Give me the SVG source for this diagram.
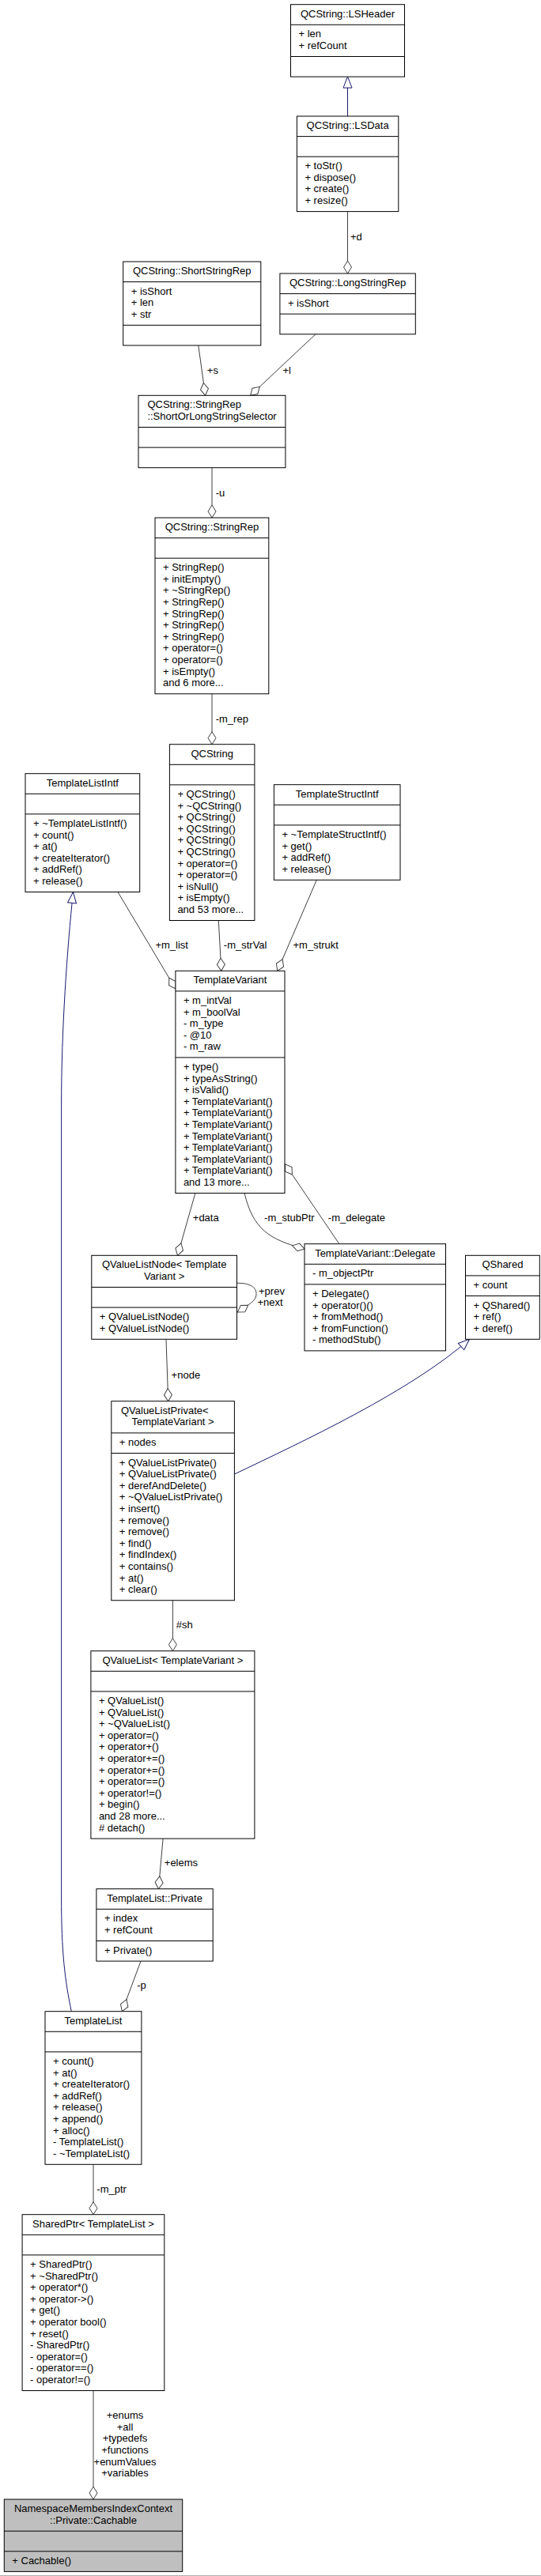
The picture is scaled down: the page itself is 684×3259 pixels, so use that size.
<svg xmlns="http://www.w3.org/2000/svg" width="684" height="3259" viewBox="0 0 684 3259">
<style>
.bg{fill:#fff}
.box{fill:#fff;stroke:#000;stroke-width:1}
.hl{fill:#bfbfbf;stroke:#000;stroke-width:1}
.sep{stroke:#000;stroke-width:1;fill:none}
text{font-family:"Liberation Sans",Arial,Helvetica,sans-serif;font-size:13px;fill:#000}
.c{text-anchor:middle}
.e{fill:none;stroke:#404040;stroke-width:1;marker-end:url(#agg)}
.i{fill:none;stroke:#191970;stroke-width:1;marker-end:url(#inh)}
</style>
<defs>
<marker id="agg" markerUnits="userSpaceOnUse" markerWidth="18" markerHeight="12" viewBox="-1 -1 18 12" refX="16" refY="5" orient="auto"><path d="M0,5 L8,0 L16,5 L8,10 Z" fill="#fff" stroke="#404040"/></marker>
<marker id="inh" markerUnits="userSpaceOnUse" markerWidth="16" markerHeight="13" viewBox="-1 -1 16 13" refX="14" refY="5.5" orient="auto"><path d="M0,0 L14,5.5 L0,11 Z" fill="#fff" stroke="#191970"/></marker>
</defs>
<rect class="bg" x="0" y="0" width="684" height="3259"/>

<g id="connectors">
<path class="i" d="M439.5,147 L439.5,97.1"/>
<path class="e" d="M439.5,267.6 L439.5,346"/>
<text x="443" y="304">+d</text>
<path class="e" d="M250.8,437 L259.6,500.3"/>
<text x="261.8" y="472.5">+s</text>
<path class="e" d="M399,422.8 L316.6,500.3"/>
<text x="357.4" y="472.5">+l</text>
<path class="e" d="M268,591.7 L268,655"/>
<text x="272.7" y="627.8">-u</text>
<path class="e" d="M268,877.8 L268,941.7"/>
<text x="272.7" y="913.5">-m_rep</text>
<path class="e" d="M149,1128.5 L222,1251"/>
<text x="196.4" y="1200">+m_list</text>
<path class="e" d="M276.3,1164.5 L279.8,1228.3"/>
<text x="282.8" y="1200">-m_strVal</text>
<path class="e" d="M400.3,1113.3 L350.8,1228.3"/>
<text x="370.5" y="1200">+m_strukt</text>
<path class="i" d="M90.3,2544.7 C82,2505 77.6,2470 77.6,2400 L77.6,1400 C77.6,1300 85,1200 92.5,1128.5"/>
<path class="e" d="M246.9,1509.5 L224.5,1588.3"/>
<text x="243.8" y="1545.2">+data</text>
<path class="e" d="M309.1,1509.5 C320,1555 340,1568 385,1580"/>
<text x="334.1" y="1545.2">-m_stubPtr</text>
<path class="e" d="M428.9,1573.7 L360.4,1472.7"/>
<text x="414.8" y="1545.2">-m_delegate</text>
<path class="e" d="M299.5,1623.3 C318,1623 326,1630 323.6,1640 C322,1646 317,1649 300.4,1660"/>
<text x="327" y="1637.8">+prev</text>
<text x="325.4" y="1652.2">+next</text>
<path class="e" d="M210,1694.3 L212.7,1772.7"/>
<text x="216.6" y="1743.8">+node</text>
<path class="i" d="M296.4,1865 C380,1825 520,1760 593.5,1694.3"/>
<path class="e" d="M218.4,2024.7 L218.4,2088.7"/>
<text x="222.8" y="2060.2">#sh</text>
<path class="e" d="M206.1,2326.1 L200.4,2389.7"/>
<text x="207.8" y="2361.2">+elems</text>
<path class="e" d="M178,2481.1 L154.4,2544.7"/>
<text x="173.2" y="2516.2">-p</text>
<path class="e" d="M118,2738.3 L118,2801.7"/>
<text x="122.3" y="2773.5">-m_ptr</text>
<path class="e" d="M118,3024.5 L118,3162"/>
<text class="c" x="158" y="3060.2">+enums</text>
<text class="c" x="158" y="3074.8">+all</text>
<text class="c" x="158" y="3089.4">+typedefs</text>
<text class="c" x="158" y="3104">+functions</text>
<text class="c" x="158" y="3118.6">+enumValues</text>
<text class="c" x="158" y="3133.2">+variables</text>
</g>

<g id="LSHeader">
<rect class="box" x="367.5" y="5.7" width="144" height="91.4"/>
<path class="sep" d="M367.5,31.3 H511.5 M367.5,71.5 H511.5"/>
<text class="c" x="439.5" y="21.7">QCString::LSHeader</text>
<text x="377.5" y="47.3">+ len</text>
<text x="377.5" y="61.9">+ refCount</text>
</g>

<g id="LSData">
<rect class="box" x="375.4" y="147" width="128.4" height="120.6"/>
<path class="sep" d="M375.4,172.6 H503.8 M375.4,198.2 H503.8"/>
<text class="c" x="439.6" y="163">QCString::LSData</text>
<text x="385.4" y="214.2">+ toStr()</text>
<text x="385.4" y="228.8">+ dispose()</text>
<text x="385.4" y="243.4">+ create()</text>
<text x="385.4" y="258">+ resize()</text>
</g>

<g id="ShortStringRep">
<rect class="box" x="155.7" y="331" width="174.1" height="106"/>
<path class="sep" d="M155.7,356.6 H329.8 M155.7,411.4 H329.8"/>
<text class="c" x="242.75" y="347">QCString::ShortStringRep</text>
<text x="165.7" y="372.6">+ isShort</text>
<text x="165.7" y="387.2">+ len</text>
<text x="165.7" y="401.8">+ str</text>
</g>

<g id="LongStringRep">
<rect class="box" x="353.9" y="346" width="171.4" height="76.8"/>
<path class="sep" d="M353.9,371.6 H525.3 M353.9,397.2 H525.3"/>
<text class="c" x="439.6" y="362">QCString::LongStringRep</text>
<text x="363.9" y="387.6">+ isShort</text>
</g>

<g id="ShortOrLongStringSelector">
<rect class="box" x="175" y="500.3" width="185.9" height="91.4"/>
<path class="sep" d="M175,540.5 H360.9 M175,566.1 H360.9"/>
<text x="186.4" y="516.3">QCString::StringRep</text>
<text x="186.4" y="530.9">::ShortOrLongStringSelector</text>
</g>

<g id="StringRep">
<rect class="box" x="196" y="655" width="143.8" height="222.8"/>
<path class="sep" d="M196,680.6 H339.8 M196,706.2 H339.8"/>
<text class="c" x="267.9" y="671">QCString::StringRep</text>
<text x="206" y="722.2">+ StringRep()</text>
<text x="206" y="736.8">+ initEmpty()</text>
<text x="206" y="751.4">+ ~StringRep()</text>
<text x="206" y="766">+ StringRep()</text>
<text x="206" y="780.6">+ StringRep()</text>
<text x="206" y="795.2">+ StringRep()</text>
<text x="206" y="809.8">+ StringRep()</text>
<text x="206" y="824.4">+ operator=()</text>
<text x="206" y="839">+ operator=()</text>
<text x="206" y="853.6">+ isEmpty()</text>
<text x="206" y="868.2">and 6 more...</text>
</g>

<g id="QCString">
<rect class="box" x="214.4" y="941.7" width="107.5" height="222.8"/>
<path class="sep" d="M214.4,967.3 H321.9 M214.4,992.9 H321.9"/>
<text class="c" x="268.15" y="957.7">QCString</text>
<text x="224.4" y="1008.9">+ QCString()</text>
<text x="224.4" y="1023.5">+ ~QCString()</text>
<text x="224.4" y="1038.1">+ QCString()</text>
<text x="224.4" y="1052.7">+ QCString()</text>
<text x="224.4" y="1067.3">+ QCString()</text>
<text x="224.4" y="1081.9">+ QCString()</text>
<text x="224.4" y="1096.5">+ operator=()</text>
<text x="224.4" y="1111.1">+ operator=()</text>
<text x="224.4" y="1125.7">+ isNull()</text>
<text x="224.4" y="1140.3">+ isEmpty()</text>
<text x="224.4" y="1154.9">and 53 more...</text>
</g>

<g id="TemplateListIntf">
<rect class="box" x="32" y="978.7" width="144.7" height="149.8"/>
<path class="sep" d="M32,1004.3 H176.7 M32,1029.9 H176.7"/>
<text class="c" x="104.35" y="994.7">TemplateListIntf</text>
<text x="42" y="1045.9">+ ~TemplateListIntf()</text>
<text x="42" y="1060.5">+ count()</text>
<text x="42" y="1075.1">+ at()</text>
<text x="42" y="1089.7">+ createIterator()</text>
<text x="42" y="1104.3">+ addRef()</text>
<text x="42" y="1118.9">+ release()</text>
</g>

<g id="TemplateStructIntf">
<rect class="box" x="346.4" y="992.7" width="159.6" height="120.6"/>
<path class="sep" d="M346.4,1018.3 H506 M346.4,1043.9 H506"/>
<text class="c" x="426.2" y="1008.7">TemplateStructIntf</text>
<text x="356.4" y="1059.9">+ ~TemplateStructIntf()</text>
<text x="356.4" y="1074.5">+ get()</text>
<text x="356.4" y="1089.1">+ addRef()</text>
<text x="356.4" y="1103.7">+ release()</text>
</g>

<g id="TemplateVariant">
<rect class="box" x="221.9" y="1228.3" width="138.1" height="281.2"/>
<path class="sep" d="M221.9,1253.9 H360 M221.9,1337.9 H360"/>
<text class="c" x="290.95" y="1244.3">TemplateVariant</text>
<text x="231.9" y="1269.9">+ m_intVal</text>
<text x="231.9" y="1284.5">+ m_boolVal</text>
<text x="231.9" y="1299.1">- m_type</text>
<text x="231.9" y="1313.7">- @10</text>
<text x="231.9" y="1328.3">- m_raw</text>
<text x="231.9" y="1353.9">+ type()</text>
<text x="231.9" y="1368.5">+ typeAsString()</text>
<text x="231.9" y="1383.1">+ isValid()</text>
<text x="231.9" y="1397.7">+ TemplateVariant()</text>
<text x="231.9" y="1412.3">+ TemplateVariant()</text>
<text x="231.9" y="1426.9">+ TemplateVariant()</text>
<text x="231.9" y="1441.5">+ TemplateVariant()</text>
<text x="231.9" y="1456.1">+ TemplateVariant()</text>
<text x="231.9" y="1470.7">+ TemplateVariant()</text>
<text x="231.9" y="1485.3">+ TemplateVariant()</text>
<text x="231.9" y="1499.9">and 13 more...</text>
</g>

<g id="QValueListNode">
<rect class="box" x="115.8" y="1588.3" width="183.7" height="106"/>
<path class="sep" d="M115.8,1628.5 H299.5 M115.8,1654.1 H299.5"/>
<text class="c" x="207.65" y="1604.3">QValueListNode&lt; Template</text>
<text class="c" x="207.65" y="1618.9">Variant &gt;</text>
<text x="125.8" y="1670.1">+ QValueListNode()</text>
<text x="125.8" y="1684.7">+ QValueListNode()</text>
</g>

<g id="Delegate">
<rect class="box" x="385" y="1573.7" width="178.5" height="135.2"/>
<path class="sep" d="M385,1599.3 H563.5 M385,1624.9 H563.5"/>
<text class="c" x="474.25" y="1589.7">TemplateVariant::Delegate</text>
<text x="395" y="1615.3">- m_objectPtr</text>
<text x="395" y="1640.9">+ Delegate()</text>
<text x="395" y="1655.5">+ operator()()</text>
<text x="395" y="1670.1">+ fromMethod()</text>
<text x="395" y="1684.7">+ fromFunction()</text>
<text x="395" y="1699.3">- methodStub()</text>
</g>

<g id="QShared">
<rect class="box" x="588.5" y="1588.3" width="93.8" height="106"/>
<path class="sep" d="M588.5,1613.9 H682.3 M588.5,1639.5 H682.3"/>
<text class="c" x="635.4" y="1604.3">QShared</text>
<text x="598.5" y="1629.9">+ count</text>
<text x="598.5" y="1655.5">+ QShared()</text>
<text x="598.5" y="1670.1">+ ref()</text>
<text x="598.5" y="1684.7">+ deref()</text>
</g>

<g id="QValueListPrivate">
<rect class="box" x="140.8" y="1772.7" width="155.6" height="252"/>
<path class="sep" d="M140.8,1812.9 H296.4 M140.8,1838.5 H296.4"/>
<text class="c" x="208.3" y="1788.7">QValueListPrivate&lt;</text>
<text class="c" x="218.6" y="1803.3">TemplateVariant &gt;</text>
<text x="150.8" y="1828.9">+ nodes</text>
<text x="150.8" y="1854.5">+ QValueListPrivate()</text>
<text x="150.8" y="1869.1">+ QValueListPrivate()</text>
<text x="150.8" y="1883.7">+ derefAndDelete()</text>
<text x="150.8" y="1898.3">+ ~QValueListPrivate()</text>
<text x="150.8" y="1912.9">+ insert()</text>
<text x="150.8" y="1927.5">+ remove()</text>
<text x="150.8" y="1942.1">+ remove()</text>
<text x="150.8" y="1956.7">+ find()</text>
<text x="150.8" y="1971.3">+ findIndex()</text>
<text x="150.8" y="1985.9">+ contains()</text>
<text x="150.8" y="2000.5">+ at()</text>
<text x="150.8" y="2015.1">+ clear()</text>
</g>

<g id="QValueList">
<rect class="box" x="114.9" y="2088.7" width="207" height="237.4"/>
<path class="sep" d="M114.9,2114.3 H321.9 M114.9,2139.9 H321.9"/>
<text class="c" x="218.4" y="2104.7">QValueList&lt; TemplateVariant &gt;</text>
<text x="124.9" y="2155.9">+ QValueList()</text>
<text x="124.9" y="2170.5">+ QValueList()</text>
<text x="124.9" y="2185.1">+ ~QValueList()</text>
<text x="124.9" y="2199.7">+ operator=()</text>
<text x="124.9" y="2214.3">+ operator+()</text>
<text x="124.9" y="2228.9">+ operator+=()</text>
<text x="124.9" y="2243.5">+ operator+=()</text>
<text x="124.9" y="2258.1">+ operator==()</text>
<text x="124.9" y="2272.7">+ operator!=()</text>
<text x="124.9" y="2287.3">+ begin()</text>
<text x="124.9" y="2301.9">and 28 more...</text>
<text x="124.9" y="2316.5"># detach()</text>
</g>

<g id="TemplateListPrivate">
<rect class="box" x="121.9" y="2389.7" width="147.3" height="91.4"/>
<path class="sep" d="M121.9,2415.3 H269.2 M121.9,2455.5 H269.2"/>
<text class="c" x="195.55" y="2405.7">TemplateList::Private</text>
<text x="131.9" y="2431.3">+ index</text>
<text x="131.9" y="2445.9">+ refCount</text>
<text x="131.9" y="2471.5">+ Private()</text>
</g>

<g id="TemplateList">
<rect class="box" x="57" y="2544.7" width="121.9" height="193.6"/>
<path class="sep" d="M57,2570.3 H178.9 M57,2595.9 H178.9"/>
<text class="c" x="117.95" y="2560.7">TemplateList</text>
<text x="67" y="2611.9">+ count()</text>
<text x="67" y="2626.5">+ at()</text>
<text x="67" y="2641.1">+ createIterator()</text>
<text x="67" y="2655.7">+ addRef()</text>
<text x="67" y="2670.3">+ release()</text>
<text x="67" y="2684.9">+ append()</text>
<text x="67" y="2699.5">+ alloc()</text>
<text x="67" y="2714.1">- TemplateList()</text>
<text x="67" y="2728.7">- ~TemplateList()</text>
</g>

<g id="SharedPtr">
<rect class="box" x="28.1" y="2801.7" width="179.7" height="222.8"/>
<path class="sep" d="M28.1,2827.3 H207.8 M28.1,2852.9 H207.8"/>
<text class="c" x="117.95" y="2817.7">SharedPtr&lt; TemplateList &gt;</text>
<text x="38.1" y="2868.9">+ SharedPtr()</text>
<text x="38.1" y="2883.5">+ ~SharedPtr()</text>
<text x="38.1" y="2898.1">+ operator*()</text>
<text x="38.1" y="2912.7">+ operator-&gt;()</text>
<text x="38.1" y="2927.3">+ get()</text>
<text x="38.1" y="2941.9">+ operator bool()</text>
<text x="38.1" y="2956.5">+ reset()</text>
<text x="38.1" y="2971.1">- SharedPtr()</text>
<text x="38.1" y="2985.7">- operator=()</text>
<text x="38.1" y="3000.3">- operator==()</text>
<text x="38.1" y="3014.9">- operator!=()</text>
</g>

<g id="Cachable">
<rect class="hl" x="5.3" y="3162" width="225.4" height="91.4"/>
<path class="sep" d="M5.3,3202.2 H230.7 M5.3,3227.8 H230.7"/>
<text class="c" x="118" y="3178">NamespaceMembersIndexContext</text>
<text class="c" x="118" y="3192.6">::Private::Cachable</text>
<text x="15.3" y="3243.8">+ Cachable()</text>
</g>

<path d="M0,3258.5 H684" stroke="#b0b0b0" stroke-width="1" fill="none"/>
</svg>
